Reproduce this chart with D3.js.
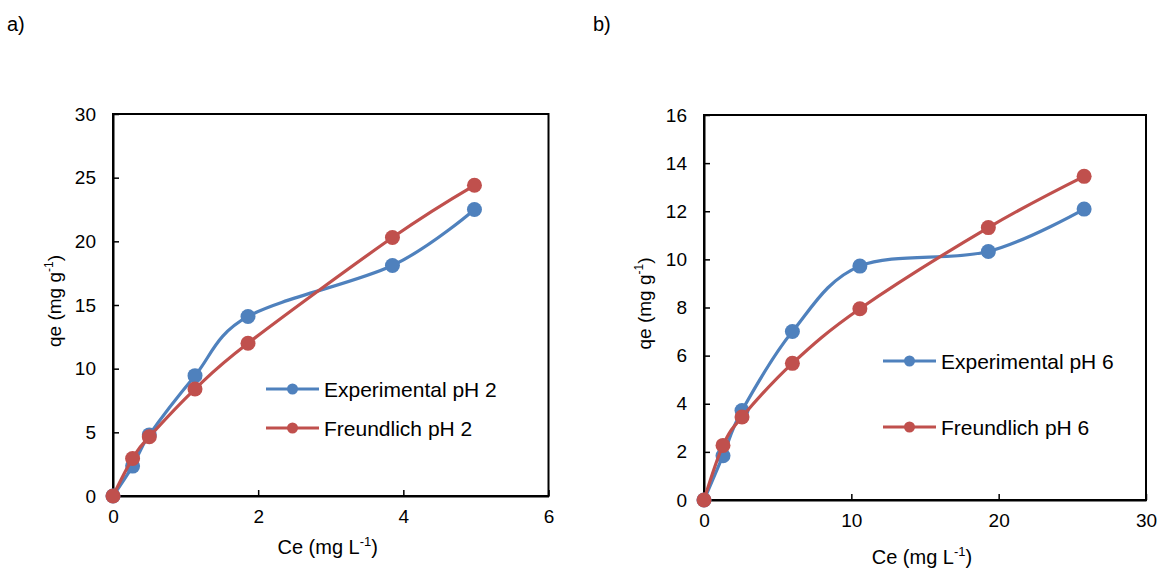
<!DOCTYPE html>
<html>
<head>
<meta charset="utf-8">
<script src="https://cdn.jsdelivr.net/npm/d3@7"></script>
<style>
body {
  margin: 0;
  background-color: white;
}
svg text {
  font-family: "Liberation Sans", Arial, sans-serif;
  fill: black;
}
</style>
</head>
<body>
<script>
// panel a) pH 2
const ceA = [0, 0.27, 0.5, 1.13, 1.86, 3.85, 4.98];
const expA = [0, 2.35, 4.8, 9.45, 14.1, 18.1, 22.5];
const freA = [0, 2.95, 4.65, 8.4, 12.0, 20.3, 24.4];
const xTicksA = [0, 2, 4, 6];
const yTicksA = [0, 5, 10, 15, 20, 25, 30];

// panel b) pH 6
const ceB = [0, 1.29, 2.58, 6.0, 10.58, 19.3, 25.8];
const expB = [0, 1.84, 3.72, 7.0, 9.72, 10.33, 12.09];
const freB = [0, 2.27, 3.45, 5.68, 7.95, 11.32, 13.45];
const xTicksB = [0, 10, 20, 30];
const yTicksB = [0, 2, 4, 6, 8, 10, 12, 14, 16];

const blue = "#4F81BD";
const red = "#C0504D";

const svg = d3.select("body")
            .append("svg")
            .attr("width", 1158)
            .attr("height", 569);

function panel(opt) {
  const x = d3.scaleLinear()
              .domain([opt.xTicks[0], opt.xTicks[opt.xTicks.length - 1]])
              .range([opt.left, opt.right]);
  const y = d3.scaleLinear()
              .domain([opt.yTicks[0], opt.yTicks[opt.yTicks.length - 1]])
              .range([opt.bottom, opt.top]);

  // plot border
  svg.append("rect")
     .attr("x", opt.left)
     .attr("y", opt.top)
     .attr("width", opt.right - opt.left)
     .attr("height", opt.bottom - opt.top)
     .attr("fill", "none")
     .attr("stroke", "black")
     .attr("stroke-width", 2);

  const xAxis = d3.axisBottom(x)
                  .tickValues(opt.xTicks)
                  .tickFormat(d3.format("d"))
                  .tickSizeInner(-6)
                  .tickSizeOuter(0)
                  .tickPadding(opt.xPad);
  const yAxis = d3.axisLeft(y)
                  .tickValues(opt.yTicks)
                  .tickFormat(d3.format("d"))
                  .tickSizeInner(-6)
                  .tickSizeOuter(0)
                  .tickPadding(17);

  const gx = svg.append("g")
     .attr("transform", `translate(0, ${opt.bottom})`)
     .call(xAxis);
  const gy = svg.append("g")
     .attr("transform", `translate(${opt.left}, 0)`)
     .call(yAxis);
  [gx, gy].forEach(g => {
    g.select(".domain").attr("stroke", "black").attr("stroke-width", 2);
    g.selectAll(".tick line").attr("stroke", "black").attr("stroke-width", 1.5);
    g.selectAll(".tick text")
     .attr("font-size", 19)
     .attr("font-family", "Liberation Sans, Arial, sans-serif")
     .attr("fill", "black");
  });

  const line = d3.line()
                 .curve(d3.curveCardinal.tension(0))
                 .x(d => x(d[0]))
                 .y(d => y(d[1]));

  const series = [
    {vals: opt.exp, color: blue},
    {vals: opt.fre, color: red}
  ];
  series.forEach(s => {
    const pts = opt.ce.map((c, i) => [c, s.vals[i]]);
    svg.append("path")
       .attr("d", line(pts))
       .attr("fill", "none")
       .attr("stroke", s.color)
       .attr("stroke-width", 3.2);
    svg.append("g").selectAll("circle")
       .data(pts).enter()
       .append("circle")
       .attr("cx", d => x(d[0]))
       .attr("cy", d => y(d[1]))
       .attr("r", 7.5)
       .attr("fill", s.color);
  });

  // legend
  opt.legend.forEach((name, i) => {
    const ly = opt.legY[i];
    const col = i === 0 ? blue : red;
    svg.append("line")
       .attr("x1", opt.legX).attr("x2", opt.legX + 53)
       .attr("y1", ly).attr("y2", ly)
       .attr("stroke", col).attr("stroke-width", 3.2);
    svg.append("circle")
       .attr("cx", opt.legX + 26.5).attr("cy", ly)
       .attr("r", 5.5).attr("fill", col);
    svg.append("text")
       .attr("x", opt.legX + 58)
       .attr("y", ly + 7.5)
       .attr("font-size", 21)
       .text(name);
  });

  // axis titles
  const xt = svg.append("text")
     .attr("text-anchor", "middle")
     .attr("x", (opt.left + opt.right) / 2 - 3)
     .attr("y", opt.xTitleY)
     .attr("font-size", 20);
  xt.append("tspan").text("Ce (mg L");
  xt.append("tspan").attr("font-size", 13).attr("dy", -8).text("-1");
  xt.append("tspan").attr("dy", 8).text(")");

  const yt = svg.append("text")
     .attr("text-anchor", "middle")
     .attr("transform", `translate(${opt.yTitleX}, ${(opt.top + opt.bottom) / 2 - 4}) rotate(-90)`)
     .attr("font-size", 19);
  yt.append("tspan").text("qe (mg g");
  yt.append("tspan").attr("font-size", 12).attr("dy", -8).text("-1");
  yt.append("tspan").attr("dy", 8).text(")");

  svg.append("text")
     .attr("x", opt.tagX)
     .attr("y", 31)
     .attr("font-size", 20)
     .text(opt.tag);
}

panel({
  ce: ceA, exp: expA, fre: freA,
  xTicks: xTicksA, yTicks: yTicksA,
  left: 113, right: 548.5, top: 114, bottom: 496,
  xPad: 14, xTitleY: 554, yTitleX: 61,
  legend: ["Experimental pH 2", "Freundlich pH 2"],
  legX: 266, legY: [389, 428],
  tag: "a)", tagX: 7
});

panel({
  ce: ceB, exp: expB, fre: freB,
  xTicks: xTicksB, yTicks: yTicksB,
  left: 704, right: 1146, top: 115, bottom: 500,
  xPad: 14, xTitleY: 564, yTitleX: 651,
  legend: ["Experimental pH 6", "Freundlich pH 6"],
  legX: 883, legY: [361, 427],
  tag: "b)", tagX: 593
});
</script>
</body>
</html>
